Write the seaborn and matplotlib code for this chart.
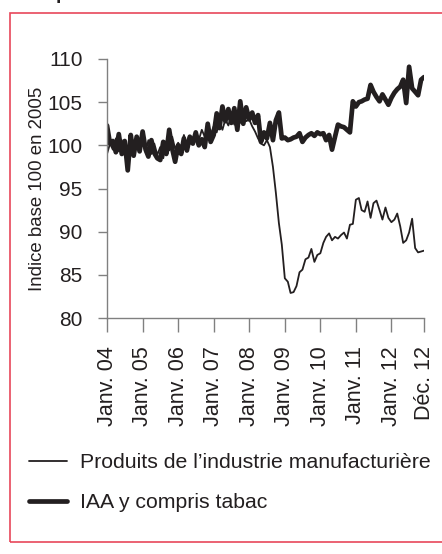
import pandas as pd
import numpy as np
import matplotlib
matplotlib.use("Agg")
import matplotlib.pyplot as plt
import matplotlib.patches as mpatches
import seaborn as sns

# Monthly series, Jan 2004 - Dec 2012 (index base 100 in 2005)
manuf = [
    99.0, 100.2, 99.5, 100.8, 99.3, 100.6, 99.0, 98.6, 100.3, 99.6, 100.9, 99.5,
    100.4, 99.2, 100.6, 99.0, 100.2, 98.9, 99.8, 98.5, 100.5, 99.4, 101.0, 99.6,
    100.3, 99.6, 101.2, 100.0, 101.0, 100.4, 101.5, 100.6, 101.8, 101.0, 102.0, 101.3,
    102.2, 101.5, 102.8, 101.8, 103.0, 102.3, 103.5, 102.4, 103.8, 102.6, 103.2, 102.8,
    103.0, 102.2, 101.6, 100.8, 100.2, 100.0, 100.6, 99.8, 97.5, 94.5, 91.0, 88.5,
    84.6, 84.2, 82.9, 83.0, 83.7, 85.3, 85.6, 86.8, 87.0, 88.0, 86.5, 87.3,
    87.5, 88.7, 89.4, 89.8, 89.0, 89.4, 89.2, 89.6, 89.9, 89.2, 90.8, 90.9,
    93.7, 93.9, 92.5, 92.3, 93.5, 91.6, 93.3, 93.6, 92.5, 91.4, 92.8, 91.6,
    91.1, 91.4, 92.1, 90.6, 88.7, 89.0, 89.9, 91.5, 88.1, 87.6, 87.7, 87.8,
]
iaa = [
    102.3, 100.2, 100.5, 99.2, 101.3, 99.0, 100.5, 97.1, 101.2, 98.8, 101.0, 99.3,
    101.6, 99.5, 98.7, 100.6, 99.1, 98.5, 98.3, 100.4, 99.0, 101.8, 99.6, 98.1,
    100.0, 99.0, 100.8, 99.4, 101.0, 100.2, 101.5, 100.0, 100.7, 99.8, 102.5, 100.4,
    101.2, 103.7, 102.0, 104.5, 102.8, 104.2, 102.6, 104.3, 101.8, 105.1, 102.5, 104.4,
    103.0, 103.8, 102.6, 103.5, 100.4, 101.5, 100.8, 102.6, 100.6, 102.9, 103.8, 100.8,
    100.9, 100.6, 100.7, 100.9, 101.0, 101.4, 100.4, 100.9, 101.2, 101.4, 101.1, 101.5,
    101.3, 101.4, 100.6, 101.2, 99.5, 101.0, 102.4, 102.2, 102.1, 101.8, 101.5, 105.1,
    104.5, 105.0, 105.1, 105.3, 105.4, 107.0, 106.2, 105.6, 105.1, 105.9, 105.3, 104.7,
    105.5, 106.1, 106.5, 106.8, 107.6, 104.9, 109.1, 106.6, 106.2, 105.8, 107.6, 107.9,
]
dates = pd.date_range("2004-01-01", periods=108, freq="MS")

tick_dates = list(pd.date_range("2004-01-01", "2012-01-01", freq="YS")) + [pd.Timestamp("2012-12-01")]
tick_labels = [f"Janv. {d.year % 100:02d}" for d in tick_dates[:-1]] + ["Déc. 12"]
y_ticks = [80, 85, 90, 95, 100, 105, 110]

ink = "#231f20"
grey = "#808080"

sns.set_theme(style="ticks")
plt.rcParams["font.family"] = ["Liberation Sans", "DejaVu Sans"]

df = pd.DataFrame({"date": dates, "manuf": manuf, "iaa": iaa})

fig = plt.figure(figsize=(4.42, 5.54), dpi=100)
ax = fig.add_axes([107 / 442, 1 - 318 / 554, (424 - 107) / 442, (318 - 59) / 554])

sns.lineplot(data=df, x="date", y="iaa", ax=ax, color=ink, linewidth=3.4,
             label="IAA y compris tabac")
sns.lineplot(data=df, x="date", y="manuf", ax=ax, color=ink, linewidth=1.3,
             label="Produits de l\u2019industrie manufacturière")

ax.set_xlim(dates[0], dates[-1])
ax.set_ylim(80, 110)
ax.set_yticks(y_ticks)
ax.set_xticks(tick_dates)
ax.set_xticklabels(tick_labels, rotation=90, fontsize=15.5, color=ink)
ax.tick_params(axis="y", labelsize=15, labelcolor=ink, length=6.5, width=1, color=grey, pad=11)
ax.tick_params(axis="x", length=10, width=1, color=grey, pad=10.5)
ax.set_xlabel("")
ax.set_ylabel("Indice base 100 en 2005", fontsize=13.4, color=ink)
ax.yaxis.set_label_coords(-0.193, 0.5)
for side in ["top", "right"]:
    ax.spines[side].set_visible(False)
for side in ["left", "bottom"]:
    ax.spines[side].set_color(grey)
    ax.spines[side].set_linewidth(1)

# legend below the axes, thin line first
handles, labels = ax.get_legend_handles_labels()
ax.get_legend().remove()
fig.legend(handles[::-1], labels[::-1], loc="upper left",
           bbox_to_anchor=(29 / 442, 1 - 453 / 554), frameon=False,
           fontsize=15.3, handlelength=1.8, handletextpad=0.6,
           labelspacing=1.0, borderpad=0, borderaxespad=0, labelcolor=ink)

# red frame around the figure, open on the right
fig.patches.append(mpatches.Rectangle((10 / 442, 1 - 541.5 / 554), 1.2, (541.5 - 12.7) / 554,
                                      transform=fig.transFigure, fill=False,
                                      edgecolor="#e8475a", linewidth=1.2))
# cut-off title above the frame
fig.text(56 / 442, 1.002, "p", fontsize=14, fontweight="bold", color=ink, va="baseline")

fig.savefig("out.png", dpi=100)
